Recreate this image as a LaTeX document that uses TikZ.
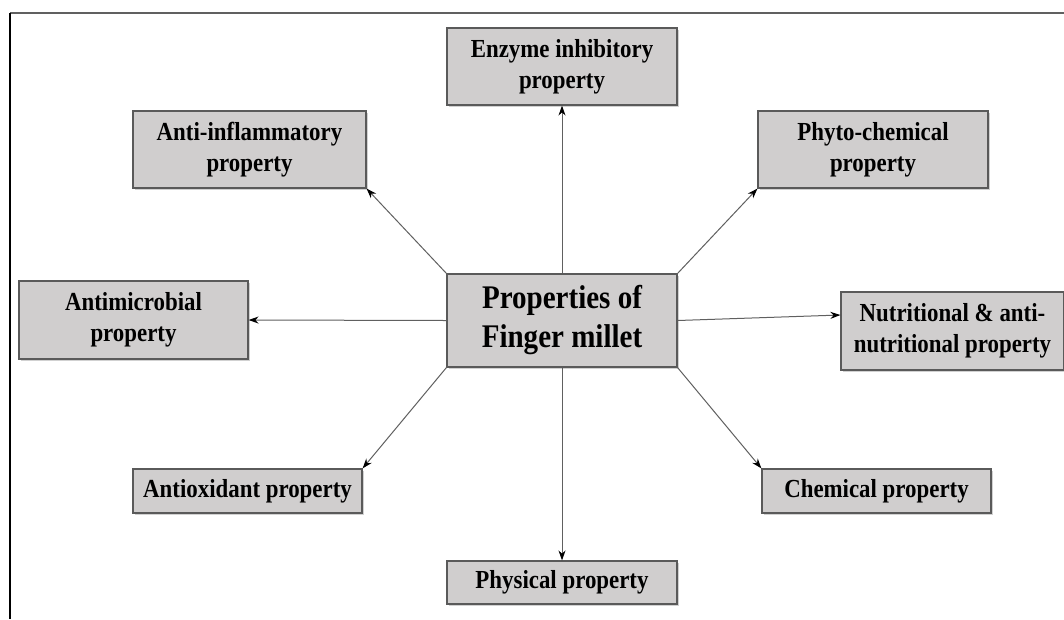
\documentclass[tikz,border=0pt]{standalone}
\usepackage{fontspec}
\setmainfont[FakeStretch=0.88]{Liberation Serif}
\usetikzlibrary{arrows.meta,shadows}
\definecolor{boxfill}{HTML}{D0CECE}
\definecolor{boxline}{HTML}{5A5A5A}
\definecolor{arrline}{HTML}{606060}
\tikzset{
  propbox/.style={draw=boxline, fill=boxfill, line width=1.2pt, inner sep=0pt,
    align=center, font=\fontsize{26}{31}\selectfont\bfseries,
    drop shadow={shadow xshift=1.5pt, shadow yshift=-1.5pt, opacity=0.18, fill=black}},
  mainbox/.style={propbox, font=\fontsize{33}{39}\selectfont\bfseries},
  conn/.style={draw=arrline, line width=1pt, -{Stealth[length=10pt,width=7pt,color=black]}}
}
\begin{document}
\begin{tikzpicture}[x=1pt,y=-1pt]
\useasboundingbox (0,0) rectangle (1064,619);
\fill[white] (0,0) rectangle (1064,619);
\coordinate (bt1) at (10,13);
\coordinate (bt2) at (1064,13);
\coordinate (bl) at (10,619);
\draw[draw=arrline, line width=1.3pt] (bt1) -- (bt2);
\draw[black, line width=1.5pt] (bt1) -- (bl);

\node[mainbox, minimum width=230pt, minimum height=93pt] (ctr) at (562,320.5) {Properties of\\Finger millet};
\node[propbox, minimum width=230pt, minimum height=77pt] (enz) at (562,66.5) {Enzyme inhibitory\\property};
\node[propbox, minimum width=223pt, minimum height=78pt] (nut) at (952.5,331) {Nutritional \& anti-\\nutritional property};
\node[propbox, minimum width=230pt, minimum height=43pt] (phys) at (562,582.5) {Physical property};
\node[propbox, minimum width=233pt, minimum height=77pt] (ainf) at (249.5,149.5) {Anti-inflammatory\\property};
\node[propbox, minimum width=230pt, minimum height=77pt] (phyto) at (873,149.5) {Phyto-chemical\\property};
\node[propbox, minimum width=229pt, minimum height=78pt] (amic) at (133.5,320) {Antimicrobial\\property};
\node[propbox, minimum width=229pt, minimum height=44pt] (aox) at (247.5,491) {Antioxidant property};
\node[propbox, minimum width=229pt, minimum height=44pt] (chem) at (876.5,491) {Chemical property};

\draw[conn] (ctr.north) -- (enz.south);
\draw[conn] (ctr.north west) -- (ainf.south east);
\draw[conn] (ctr.north east) -- (phyto.south west);
\draw[conn] (ctr.west) -- (amic.east);
\draw[conn] (ctr.east) -- ([yshift=16pt]nut.west);
\draw[conn] (ctr.south west) -- (aox.north east);
\draw[conn] (ctr.south east) -- (chem.north west);
\draw[conn] (ctr.south) -- (phys.north);
\end{tikzpicture}
\end{document}
